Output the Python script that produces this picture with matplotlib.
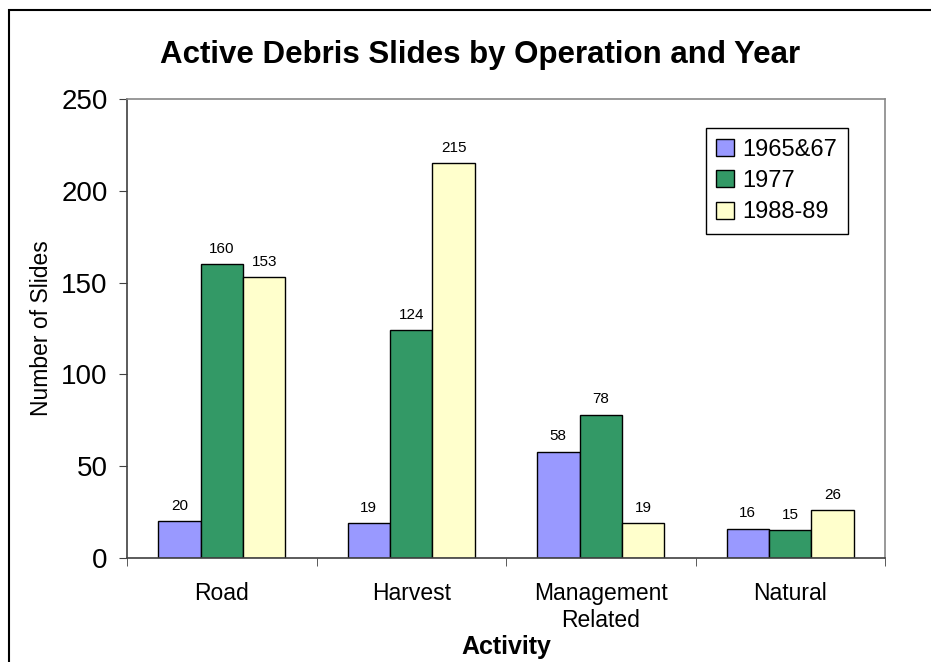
import matplotlib
matplotlib.use("Agg")
import matplotlib.pyplot as plt
import numpy as np
from matplotlib.patches import Rectangle

categories = ["Road", "Harvest", "Management\nRelated", "Natural"]
series_names = ["1965&67", "1977", "1988-89"]
v1965 = [20, 19, 58, 16]
v1977 = [160, 124, 78, 15]
v1988 = [153, 215, 19, 26]
colors = ["#9999FF", "#339966", "#FFFFCC"]

plt.rcParams['font.family'] = ['Liberation Sans', 'DejaVu Sans']

fig = plt.figure(figsize=(9.31, 6.62), dpi=100)
ax = fig.add_axes([127/931, 1-558/662, (885-127)/931, (558-99)/662])

x = np.arange(len(categories))
w = 0.224
for i, (vals, name, c) in enumerate(zip([v1965, v1977, v1988], series_names, colors)):
    bars = ax.bar(x + (i-1)*w, vals, w, color=c, edgecolor='black', linewidth=1.0, label=name)
    ax.bar_label(bars, padding=6, fontsize=11)

ax.set_xlim(-0.5, len(categories)-0.5)
ax.set_ylim(0, 250)
ax.set_yticks(np.arange(0, 251, 50))
ax.tick_params(axis='y', labelsize=20, direction='out', length=6, pad=8, color='#404040')
ax.set_xticks(x)
ax.set_xticklabels(categories, fontsize=16.5, linespacing=1.25)
ax.tick_params(axis='x', which='major', length=0, pad=17)
ax.set_xticks(np.arange(-0.5, len(categories), 1.0), minor=True)
ax.tick_params(axis='x', which='minor', length=6, direction='out', color='#404040')

for s in ['left', 'bottom']:
    ax.spines[s].set_color('#404040')
    ax.spines[s].set_linewidth(1.2)
for s in ['top', 'right']:
    ax.spines[s].set_color('#888888')
    ax.spines[s].set_linewidth(1.2)

ax.set_ylabel("Number of Slides", fontsize=16.5, labelpad=6)
ax.set_xlabel("Activity", fontsize=18, fontweight='bold', labelpad=2)
fig.text(480/931, 1-55/662, "Active Debris Slides by Operation and Year",
         fontsize=22.5, fontweight='bold', ha='center', va='center')

leg = ax.legend(loc='upper right', bbox_to_anchor=(0.951, 0.937), fontsize=17,
                fancybox=False, edgecolor='black', framealpha=1,
                handlelength=0.75, handleheight=0.75, handletextpad=0.35,
                borderpad=0.45, labelspacing=0.4, borderaxespad=0)
leg.get_frame().set_linewidth(1.0)

fig.patches.append(Rectangle((9/931, -0.1), 2, 1-10/662+0.1, transform=fig.transFigure,
                             fill=False, edgecolor='black', linewidth=1.5))

fig.savefig("out.png", dpi=100)
